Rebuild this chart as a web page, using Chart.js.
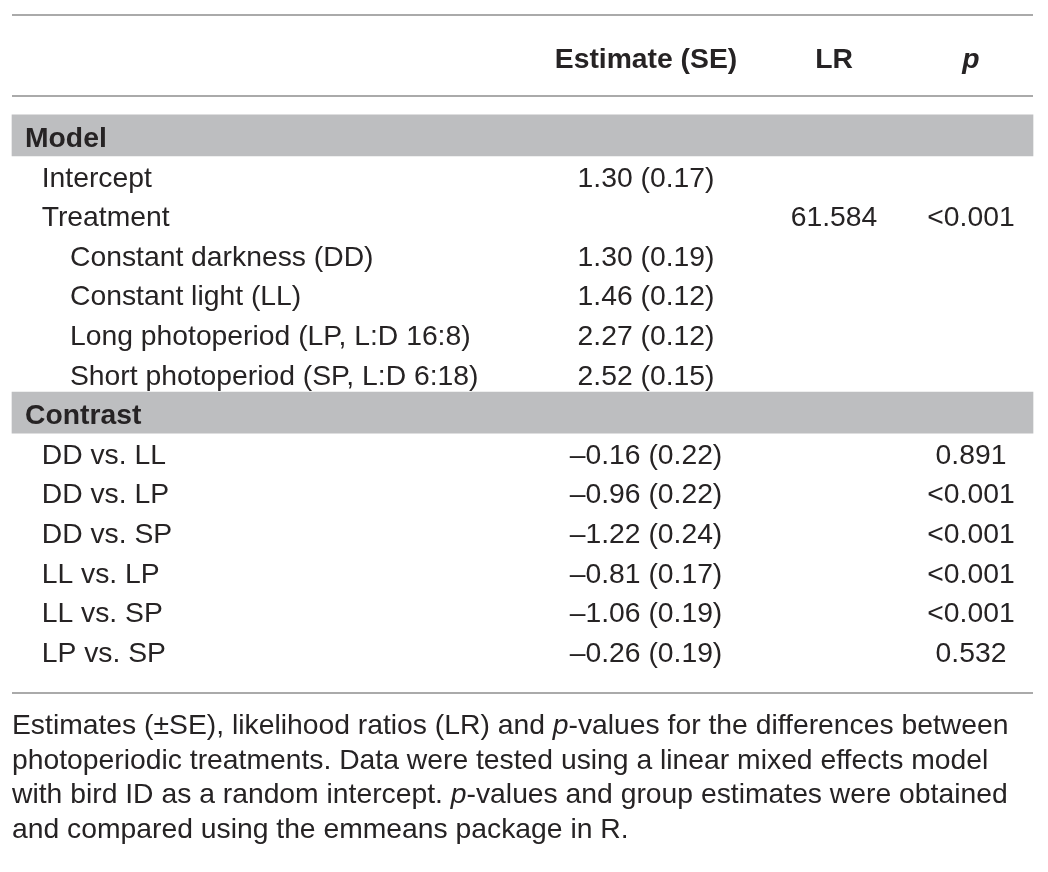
<!DOCTYPE html>
<html>
<head>
<meta charset="utf-8">
<script src="https://cdn.jsdelivr.net/npm/chart.js@4.4.1/dist/chart.umd.min.js"></script>
<style>
  html, body { margin: 0; padding: 0; background: #ffffff; overflow: hidden; }
  #wrap { width: 1048px; height: 872px; position: relative; }
</style>
</head>
<body>
<div id="wrap"><canvas id="c"></canvas></div>
<script>
// ---------------- DATA ----------------
const columnHeaders = ["Estimate (SE)", "LR", "p"];
const modelSection = "Model";
const contrastSection = "Contrast";
const modelTerms = ["Intercept", "Treatment"];
const interceptEstimate = 1.30;
const interceptSE = 0.17;
const treatmentLR = "61.584";
const treatmentP = "<0.001";
const treatmentLevels = [
  "Constant darkness (DD)",
  "Constant light (LL)",
  "Long photoperiod (LP, L:D 16:8)",
  "Short photoperiod (SP, L:D 6:18)"
];
const levelEstimates = [1.30, 1.46, 2.27, 2.52];
const levelSE = [0.19, 0.12, 0.12, 0.15];
const contrastLabels = ["DD vs. LL", "DD vs. LP", "DD vs. SP", "LL vs. LP", "LL vs. SP", "LP vs. SP"];
const contrastEstimates = [-0.16, -0.96, -1.22, -0.81, -1.06, -0.26];
const contrastSE = [0.22, 0.22, 0.24, 0.17, 0.19, 0.19];
const contrastP = ["0.891", "<0.001", "<0.001", "<0.001", "<0.001", "0.532"];
const captionLines = [
  [["Estimates (\u00B1SE), likelihood ratios (LR) and ", ""], ["p", "italic"], ["-values for the differences between", ""]],
  [["photoperiodic treatments. Data were tested using a linear mixed effects model", ""]],
  [["with bird ID as a random intercept. ", ""], ["p", "italic"], ["-values and group estimates were obtained", ""]],
  [["and compared using the emmeans package in R.", ""]]
];

// ---------------- LAYOUT ----------------
const W = 1048, H = 872;
const ROW_STEP = 39.6;          // px per table row
const FIRST_ROW_PX = 137;       // centre of first body row
const FONT_PX = 28.3;
const FAMILY = "'Liberation Sans', Arial, Helvetica, sans-serif";
const TEXT_COLOR = "#262324";
const RULE_COLOR = "#8e8e8e";
const BAND_COLOR = "#bdbec0";
const TABLE_LEFT = 12, TABLE_RIGHT = 1033;
const INDENT_X = [25, 41.7, 70];
const COL_X = [646, 834, 971];
const HEADER_ROW = -2;
const RULE_ROWS = [-3.08, -1.035, 14.04];
const CAPTION_FIRST_ROW = 14.83, CAPTION_STEP = 0.871, CAPTION_X = 12;

function fmt(v, se) {
  const s = v < 0 ? "\u2013" + Math.abs(v).toFixed(2) : v.toFixed(2);
  return s + " (" + se.toFixed(2) + ")";
}

// Build rows from the arrays
const rows = [];
rows.push({ label: modelSection, level: 0, section: true });
rows.push({ label: modelTerms[0], level: 1, est: fmt(interceptEstimate, interceptSE) });
rows.push({ label: modelTerms[1], level: 1, lr: treatmentLR, p: treatmentP });
treatmentLevels.forEach((t, i) => rows.push({ label: t, level: 2, est: fmt(levelEstimates[i], levelSE[i]) }));
rows.push({ label: contrastSection, level: 0, section: true });
contrastLabels.forEach((c, i) => rows.push({ label: c, level: 1, est: fmt(contrastEstimates[i], contrastSE[i]), p: contrastP[i] }));

const sectionIdx = rows.map((r, i) => r.section ? i : -1).filter(i => i >= 0);

const tableText = {
  id: "tableText",
  afterDatasetsDraw(chart) {
    const ctx = chart.ctx, xs = chart.scales.x, ys = chart.scales.y;
    const off = FONT_PX * 0.355;
    ctx.save();
    ctx.fillStyle = TEXT_COLOR;
    ctx.textBaseline = "alphabetic";
    // header
    const hy = ys.getPixelForValue(HEADER_ROW) + off;
    ctx.textAlign = "center";
    columnHeaders.forEach((h, i) => {
      ctx.font = (i === 2 ? "italic " : "") + "bold " + FONT_PX + "px " + FAMILY;
      ctx.fillText(h, xs.getPixelForValue(COL_X[i]), hy);
    });
    // body
    rows.forEach((r, i) => {
      const y = ys.getPixelForValue(i) + off;
      ctx.textAlign = "left";
      ctx.font = (r.section ? "bold " : "") + FONT_PX + "px " + FAMILY;
      ctx.fillText(r.label, xs.getPixelForValue(INDENT_X[r.level]), y);
      ctx.font = FONT_PX + "px " + FAMILY;
      ctx.textAlign = "center";
      if (r.est) ctx.fillText(r.est, xs.getPixelForValue(COL_X[0]), y);
      if (r.lr) ctx.fillText(r.lr, xs.getPixelForValue(COL_X[1]), y);
      if (r.p) ctx.fillText(r.p, xs.getPixelForValue(COL_X[2]), y);
    });
    // caption
    ctx.textAlign = "left";
    captionLines.forEach((segs, k) => {
      const y = ys.getPixelForValue(CAPTION_FIRST_ROW + k * CAPTION_STEP) + off;
      let x = xs.getPixelForValue(CAPTION_X);
      segs.forEach(([t, st]) => {
        ctx.font = (st ? st + " " : "") + FONT_PX + "px " + FAMILY;
        ctx.fillText(t, x, y);
        x += ctx.measureText(t).width;
      });
    });
    ctx.restore();
  }
};

const canvas = document.getElementById("c");

const datasets = [
  {
    type: "bar",
    indexAxis: "y",
    data: sectionIdx.map(i => ({ y: i - 0.04, x: [TABLE_LEFT, TABLE_RIGHT] })),
    backgroundColor: BAND_COLOR,
    borderWidth: 0,
    barThickness: 41,
    grouped: false
  }
].concat(RULE_ROWS.map(r => ({
  type: "line",
  data: [{ x: TABLE_LEFT, y: r }, { x: TABLE_RIGHT, y: r }],
  borderColor: RULE_COLOR,
  borderWidth: 1.5,
  pointRadius: 0,
  fill: false
})));

new Chart(canvas, {
  type: "bar",
  data: { datasets },
  options: {
    responsive: true,
    maintainAspectRatio: false,
    animation: false,
    layout: { padding: 0 },
    plugins: { legend: { display: false }, tooltip: { enabled: false } },
    scales: {
      x: { type: "linear", min: 0, max: W, display: false, offset: false },
      y: {
        type: "linear",
        reverse: true,
        min: -FIRST_ROW_PX / ROW_STEP,
        max: (H - FIRST_ROW_PX) / ROW_STEP,
        display: false,
        offset: false
      }
    }
  },
  plugins: [tableText]
});
</script>
</body>
</html>
